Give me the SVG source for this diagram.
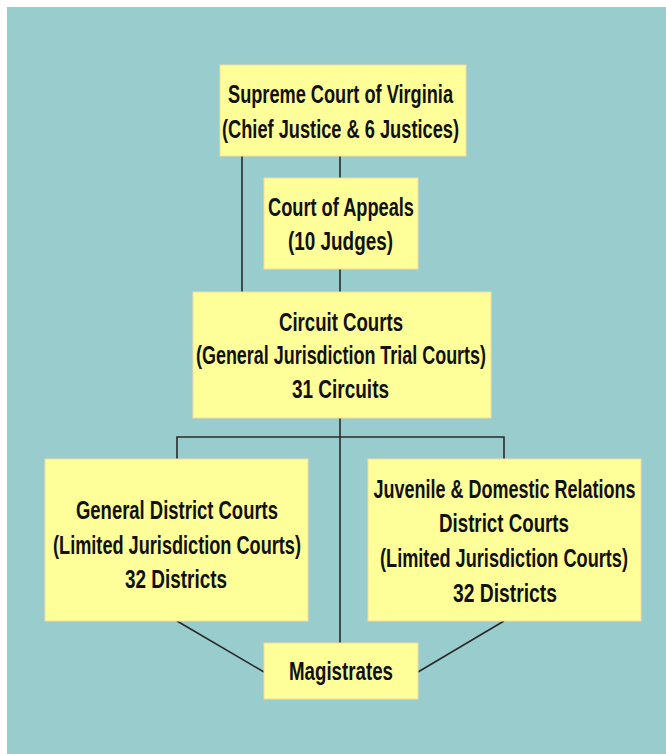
<svg xmlns="http://www.w3.org/2000/svg" width="666" height="754" viewBox="0 0 666 754">
<style>
.box{fill:#ffff99;stroke:#f3d9a6;stroke-width:1}
.t{font-family:"Liberation Sans Narrow","Liberation Sans",Arial,sans-serif;font-weight:bold;font-size:25px;fill:#111;text-anchor:middle}
.c{stroke:#2a2a2a;stroke-width:1.6;fill:none}
</style>
<rect x="0" y="0" width="666" height="754" fill="#ffffff"/>
<rect x="7" y="7" width="659" height="747" fill="#99cccc"/>
<g id="connectors">
<line class="c" x1="242" y1="156" x2="242" y2="292"/>
<line class="c" x1="340" y1="156" x2="340" y2="178"/>
<line class="c" x1="340" y1="269" x2="340" y2="292"/>
<line class="c" x1="340" y1="418" x2="340" y2="643"/>
<polyline class="c" points="177,459 177,437 504,437 504,459"/>
<line class="c" x1="177" y1="621" x2="264" y2="672"/>
<line class="c" x1="504" y1="621" x2="418" y2="672"/>
</g>
<g id="supreme">
<rect class="box" x="220" y="65" width="246" height="91"/>
<text class="t" x="340.5" y="103" textLength="225" lengthAdjust="spacingAndGlyphs">Supreme Court of Virginia</text>
<text class="t" x="340.5" y="138" textLength="237" lengthAdjust="spacingAndGlyphs">(Chief Justice &amp; 6 Justices)</text>
</g>
<g id="appeals">
<rect class="box" x="264" y="178" width="154" height="91"/>
<text class="t" x="341" y="216" textLength="146" lengthAdjust="spacingAndGlyphs">Court of Appeals</text>
<text class="t" x="340.5" y="250" textLength="105" lengthAdjust="spacingAndGlyphs">(10 Judges)</text>
</g>
<g id="circuit">
<rect class="box" x="193" y="292" width="298" height="126"/>
<text class="t" x="341" y="331" textLength="124" lengthAdjust="spacingAndGlyphs">Circuit Courts</text>
<text class="t" x="341" y="364" textLength="290" lengthAdjust="spacingAndGlyphs">(General Jurisdiction Trial Courts)</text>
<text class="t" x="340.5" y="398" textLength="97" lengthAdjust="spacingAndGlyphs">31 Circuits</text>
</g>
<g id="general-district">
<rect class="box" x="45" y="459" width="263" height="162"/>
<text class="t" x="177" y="519" textLength="202" lengthAdjust="spacingAndGlyphs">General District Courts</text>
<text class="t" x="177" y="554" textLength="248" lengthAdjust="spacingAndGlyphs">(Limited Jurisdiction Courts)</text>
<text class="t" x="176" y="588" textLength="102" lengthAdjust="spacingAndGlyphs">32 Districts</text>
</g>
<g id="juvenile">
<rect class="box" x="368" y="459" width="273" height="162"/>
<text class="t" x="504.5" y="498" textLength="262" lengthAdjust="spacingAndGlyphs">Juvenile &amp; Domestic Relations</text>
<text class="t" x="504" y="532" textLength="130" lengthAdjust="spacingAndGlyphs">District Courts</text>
<text class="t" x="504" y="567" textLength="248" lengthAdjust="spacingAndGlyphs">(Limited Jurisdiction Courts)</text>
<text class="t" x="505" y="602" textLength="104" lengthAdjust="spacingAndGlyphs">32 Districts</text>
</g>
<g id="magistrates">
<rect class="box" x="264" y="643" width="154" height="56"/>
<text class="t" x="341" y="680" textLength="104" lengthAdjust="spacingAndGlyphs">Magistrates</text>
</g>
</svg>
